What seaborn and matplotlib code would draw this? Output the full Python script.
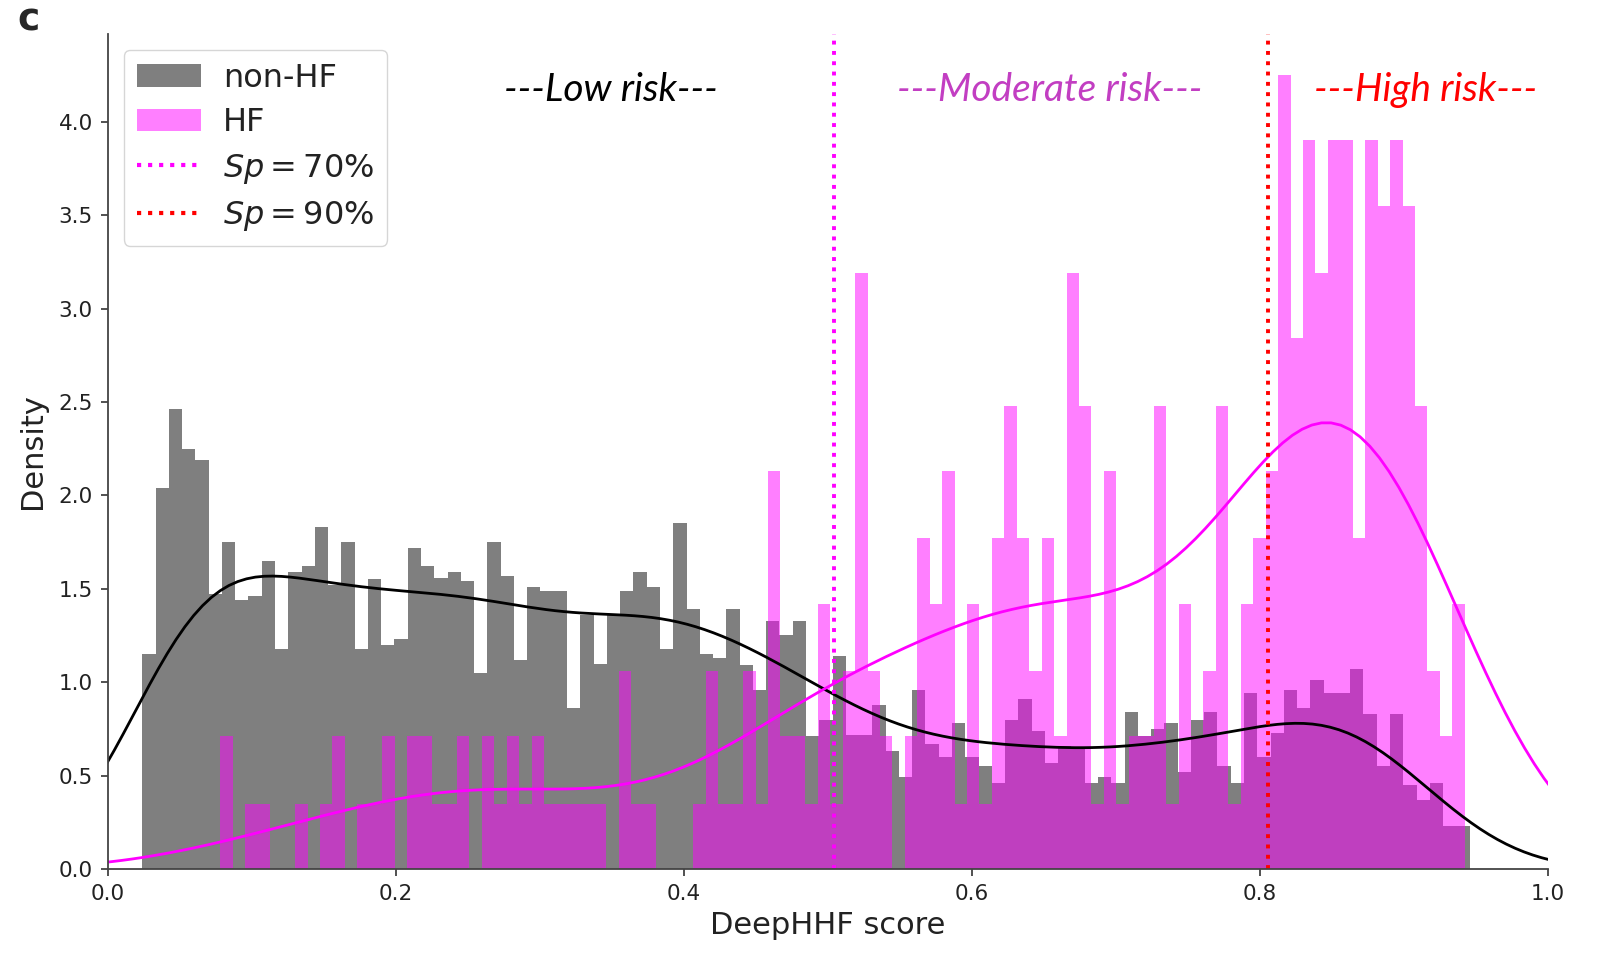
import numpy as np
import pandas as pd
import matplotlib
matplotlib.use("Agg")
import matplotlib.pyplot as plt
import seaborn as sns
from matplotlib.patches import Patch
from matplotlib.lines import Line2D
from matplotlib import font_manager

# ---------------- data ----------------
# non-HF histogram: 100 bins between these edges, density per bin
nonhf_range = (0.0238, 0.9456)
nonhf_density = [
    1.15, 2.04, 2.46, 2.25, 2.19, 1.47, 1.75, 1.44, 1.46, 1.65,
    1.18, 1.59, 1.62, 1.83, 1.52, 1.75, 1.18, 1.55, 1.20, 1.23,
    1.72, 1.62, 1.56, 1.59, 1.54, 1.05, 1.75, 1.57, 1.12, 1.51,
    1.49, 1.49, 0.86, 1.36, 1.10, 1.36, 1.49, 1.59, 1.51, 1.18,
    1.85, 1.39, 1.15, 1.13, 1.39, 1.09, 0.96, 1.33, 1.25, 1.33,
    0.71, 0.80, 1.14, 0.72, 0.72, 0.88, 0.63, 0.49, 0.96, 0.67,
    0.60, 0.78, 0.60, 0.55, 0.46, 0.80, 0.91, 0.74, 0.57, 0.66,
    0.64, 0.46, 0.49, 0.46, 0.84, 0.71, 0.75, 0.78, 0.52, 0.80,
    0.84, 0.55, 0.46, 0.94, 0.60, 0.73, 0.96, 0.86, 1.01, 0.94,
    0.94, 1.07, 0.83, 0.55, 0.83, 0.45, 0.37, 0.46, 0.23, 0.23,
]
# HF histogram: 100 bins between these edges, density per bin
hf_range = (0.0781, 0.9422)
hf_density = [
    0.71, 0.00, 0.35, 0.35, 0.00, 0.00, 0.35, 0.00, 0.35, 0.71,
    0.00, 0.35, 0.35, 0.71, 0.00, 0.71, 0.71, 0.35, 0.35, 0.71,
    0.00, 0.71, 0.35, 0.71, 0.35, 0.71, 0.35, 0.35, 0.35, 0.35,
    0.35, 0.00, 1.06, 0.35, 0.35, 0.00, 0.00, 0.00, 0.35, 1.06,
    0.35, 0.35, 1.06, 0.35, 2.13, 0.71, 0.71, 0.35, 1.42, 0.35,
    1.06, 3.19, 1.06, 0.71, 0.00, 0.71, 1.77, 1.42, 2.13, 0.35,
    1.42, 0.35, 1.77, 2.48, 1.77, 1.06, 1.77, 0.71, 3.19, 2.48,
    0.35, 2.13, 0.35, 0.71, 0.71, 2.48, 0.35, 1.42, 0.71, 1.06,
    2.48, 0.35, 1.42, 1.77, 2.13, 4.25, 2.84, 3.90, 3.19, 3.90,
    3.90, 1.77, 3.90, 3.55, 3.90, 3.55, 2.48, 1.06, 0.71, 1.42,
]
thresholds = [0.5045, 0.8056]
threshold_labels = [r"$Sp = 70\%$", r"$Sp = 90\%$"]
group_labels = ["non-HF", "HF"]
risk_labels = ["---Low risk---", "---Moderate risk---", "---High risk---"]
risk_x = [0.349, 0.654, 0.915]
x_ticks = [0.0, 0.2, 0.4, 0.6, 0.8, 1.0]
y_ticks = [0.0, 0.5, 1.0, 1.5, 2.0, 2.5, 3.0, 3.5, 4.0]


def centers(rng, n):
    w = (rng[1] - rng[0]) / n
    return rng[0] + w * (np.arange(n) + 0.5)


df_non = pd.DataFrame({"score": centers(nonhf_range, len(nonhf_density)),
                       "density": nonhf_density})
df_hf = pd.DataFrame({"score": centers(hf_range, len(hf_density)),
                      "density": hf_density})

# ---------------- figure ----------------
sns.set_style("ticks")
plt.rcParams["font.family"] = ["DejaVu Sans"]

fig = plt.figure(figsize=(16.1, 9.55), dpi=100)
ax = fig.add_axes([108 / 1610, 1 - 869 / 955, 1440 / 1610, (869 - 34) / 955])

sns.histplot(data=df_non, x="score", weights="density", bins=len(nonhf_density),
             binrange=nonhf_range, stat="count", color="#7f7f7f", alpha=1.0,
             linewidth=0, ax=ax)
sns.histplot(data=df_hf, x="score", weights="density", bins=len(hf_density),
             binrange=hf_range, stat="count", color="#ff00ff", alpha=0.5,
             linewidth=0, ax=ax)

sns.kdeplot(data=df_non, x="score", weights="density", bw_method=0.19,
            color="black", linewidth=2.0, ax=ax)
sns.kdeplot(data=df_hf, x="score", weights="density", bw_method=0.32,
            color="#ff00ff", linewidth=2.0, ax=ax)

ax.axvline(thresholds[0], color="#ff00ff", linestyle=":", linewidth=2.8)
ax.axvline(thresholds[1], color="red", linestyle=":", linewidth=2.8)

ax.set_xlim(0, 1.0)
ax.set_ylim(0, 4.47)
ax.set_xticks(x_ticks)
ax.set_yticks(y_ticks)
ax.tick_params(labelsize=15.5, length=5, width=1.2, pad=6, colors="#333333",
               labelcolor="#222222")
ax.set_xlabel("DeepHHF score", fontsize=22, labelpad=5, color="#222222")
ax.set_ylabel("Density", fontsize=22, labelpad=8, color="#222222")
sns.despine(ax=ax)
for s in ["left", "bottom"]:
    ax.spines[s].set_linewidth(1.3)
    ax.spines[s].set_color("#444444")

# risk annotations
avail = {f.name for f in font_manager.fontManager.ttflist}
risk_font = "Lato" if "Lato" in avail else "DejaVu Sans"
risk_colors = ["black", "#c23ec2", "red"]
for lbl, xx, cc in zip(risk_labels, risk_x, risk_colors):
    ax.text(xx, 4.17, lbl, color=cc, fontsize=28, style="italic",
            family=risk_font, ha="center", va="center")

handles = [
    Patch(facecolor="#7f7f7f", edgecolor="none", label=group_labels[0]),
    Patch(facecolor="#ff00ff", alpha=0.5, edgecolor="none", label=group_labels[1]),
    Line2D([0], [0], color="#ff00ff", linestyle=":", linewidth=3.0, label=threshold_labels[0]),
    Line2D([0], [0], color="red", linestyle=":", linewidth=3.0, label=threshold_labels[1]),
]
leg = ax.legend(handles=handles, loc="upper left", fontsize=23, frameon=True,
                borderaxespad=0.5, handlelength=2.0, borderpad=0.4,
                labelspacing=0.42, handletextpad=0.7)
for t in leg.get_texts():
    t.set_color("#222222")

fig.text(0.011, 0.997, "c", fontsize=27, fontweight="bold", va="top", ha="left")

fig.savefig("out.png", dpi=100)
